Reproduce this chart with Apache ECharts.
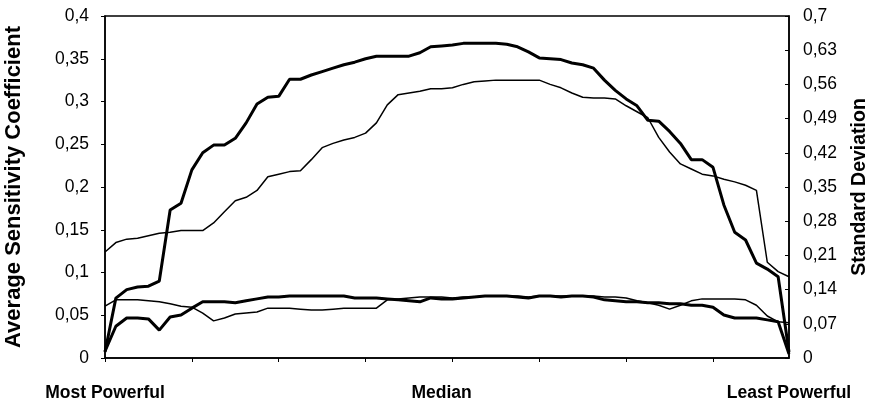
<!DOCTYPE html>
<html>
<head>
<meta charset="utf-8">
<script src="https://cdn.jsdelivr.net/npm/echarts@6/dist/echarts.min.js"></script>
<style>
  html, body { margin: 0; padding: 0; background: #fff; }
  #chart { width: 874px; height: 408px; }
</style>
</head>
<body>
<div id="chart"></div>
<script>
  // 64 ranked positions, from most powerful to least powerful
  const positions = Array.from({ length: 64 }, (_, i) => i + 1);

  // labels shown under the axis, at first / middle / last position
  const axisMarks = { 0: 'Most Powerful', 31: 'Median', 63: 'Least Powerful' };

  // upper curves (left axis)
  const meanThick = [
    0.007, 0.070, 0.080, 0.083, 0.084, 0.090, 0.173, 0.181, 0.220, 0.240,
    0.249, 0.249, 0.257, 0.275, 0.297, 0.305, 0.306, 0.326, 0.326, 0.331,
    0.335, 0.339, 0.343, 0.346, 0.350, 0.353, 0.353, 0.353, 0.353, 0.357,
    0.364, 0.365, 0.366, 0.368, 0.368, 0.368, 0.368, 0.367, 0.364, 0.358,
    0.351, 0.350, 0.349, 0.345, 0.343, 0.339, 0.325, 0.313, 0.303, 0.295,
    0.278, 0.277, 0.265, 0.251, 0.232, 0.232, 0.223, 0.179, 0.147, 0.138,
    0.111, 0.104, 0.095, 0.007
  ];
  const meanThin = [
    0.124, 0.135, 0.139, 0.140, 0.143, 0.146, 0.147, 0.149, 0.149, 0.149,
    0.158, 0.171, 0.184, 0.188, 0.196, 0.212, 0.215, 0.218, 0.219, 0.232,
    0.246, 0.251, 0.255, 0.258, 0.263, 0.275, 0.296, 0.308, 0.310, 0.312,
    0.315, 0.315, 0.316, 0.320, 0.323, 0.324, 0.325, 0.325, 0.325, 0.325,
    0.325, 0.320, 0.316, 0.310, 0.305, 0.304, 0.304, 0.303, 0.295, 0.288,
    0.281, 0.258, 0.241, 0.227, 0.221, 0.215, 0.213, 0.209, 0.206, 0.202,
    0.196, 0.112, 0.101, 0.095
  ];

  // lower curves (right axis)
  const sdThick = [
    0.014, 0.065, 0.082, 0.082, 0.080, 0.057, 0.084, 0.088, 0.102, 0.115,
    0.115, 0.115, 0.113, 0.117, 0.121, 0.125, 0.125, 0.127, 0.127, 0.127,
    0.127, 0.127, 0.127, 0.123, 0.123, 0.123, 0.121, 0.119, 0.117, 0.115,
    0.123, 0.121, 0.121, 0.123, 0.125, 0.127, 0.127, 0.127, 0.125, 0.123,
    0.127, 0.127, 0.125, 0.127, 0.127, 0.125, 0.119, 0.117, 0.115, 0.115,
    0.113, 0.113, 0.111, 0.111, 0.108, 0.108, 0.104, 0.088, 0.082, 0.082,
    0.082, 0.078, 0.074, 0.008
  ];
  const sdThin = [
    0.106, 0.119, 0.119, 0.119, 0.117, 0.115, 0.111, 0.106, 0.104, 0.092,
    0.076, 0.082, 0.090, 0.092, 0.094, 0.102, 0.102, 0.102, 0.100, 0.098,
    0.098, 0.100, 0.102, 0.102, 0.102, 0.102, 0.119, 0.121, 0.123, 0.125,
    0.125, 0.125, 0.123, 0.125, 0.125, 0.127, 0.127, 0.127, 0.127, 0.125,
    0.127, 0.127, 0.127, 0.127, 0.127, 0.127, 0.125, 0.125, 0.123, 0.117,
    0.113, 0.108, 0.100, 0.108, 0.117, 0.121, 0.121, 0.121, 0.121, 0.119,
    0.108, 0.086, 0.074, 0.072
  ];

  const FONT = "'Liberation Sans', Arial, sans-serif";
  const comma = (v) => String(v).replace('.', ',');

  const chart = echarts.init(document.getElementById('chart'), null, { renderer: 'canvas' });

  const line = (name, data, yAxisIndex, width) => ({
    name,
    type: 'line',
    data,
    yAxisIndex,
    symbol: 'none',
    silent: true,
    animation: false,
    lineStyle: { color: '#000', width },
  });

  const option = {
    animation: false,
    grid: {
      left: 105,
      right: 85,
      top: 16,
      bottom: 50,
      containLabel: false,
      outerBoundsMode: 'none',
      show: true,
      borderColor: '#000',
      borderWidth: 1.5,
      backgroundColor: 'transparent',
    },
    xAxis: {
      type: 'category',
      data: positions,
      boundaryGap: false,
      axisLine: { lineStyle: { color: '#000', width: 1.5 } },
      axisTick: {
        show: true,
        length: 4,
        interval: (idx) => idx % 8 === 0,
        lineStyle: { color: '#000' },
      },
      axisLabel: {
        interval: 0,
        margin: 26,
        color: '#000',
        fontFamily: FONT,
        fontWeight: 'bold',
        fontSize: 17.5,
        formatter: (v, idx) => axisMarks[idx] || '',
      },
      splitLine: { show: false },
    },
    yAxis: [
      {
        type: 'value',
        min: 0,
        max: 0.4,
        interval: 0.05,
        name: 'Average Sensitivity Coefficient',
        nameLocation: 'middle',
        nameRotate: 90,
        nameGap: 80,
        nameTextStyle: { color: '#000', fontFamily: FONT, fontWeight: 'bold', fontSize: 22 },
        axisLine: { show: true, lineStyle: { color: '#000', width: 1.5 } },
        axisTick: { show: true, length: 4, lineStyle: { color: '#000' } },
        axisLabel: { color: '#000', fontFamily: FONT, fontSize: 17.5, margin: 16, formatter: comma },
        splitLine: { show: false },
      },
      {
        type: 'value',
        position: 'right',
        min: 0,
        max: 0.7,
        interval: 0.07,
        name: 'Standard Deviation',
        nameLocation: 'middle',
        nameRotate: 90,
        nameGap: 61,
        nameTextStyle: { color: '#000', fontFamily: FONT, fontWeight: 'bold', fontSize: 19.5 },
        axisLine: { show: true, lineStyle: { color: '#000', width: 1.5 } },
        axisTick: { show: true, inside: true, length: 4, lineStyle: { color: '#000' } },
        axisLabel: { color: '#000', fontFamily: FONT, fontSize: 17.5, margin: 14, formatter: comma },
        splitLine: { show: false },
      },
    ],
    series: [
      line('mean-thick', meanThick, 0, 3),
      line('mean-thin', meanThin, 0, 1.5),
      line('sd-thick', sdThick, 1, 3),
      line('sd-thin', sdThin, 1, 1.5),
    ],
  };

  chart.setOption(option);
</script>
</body>
</html>
